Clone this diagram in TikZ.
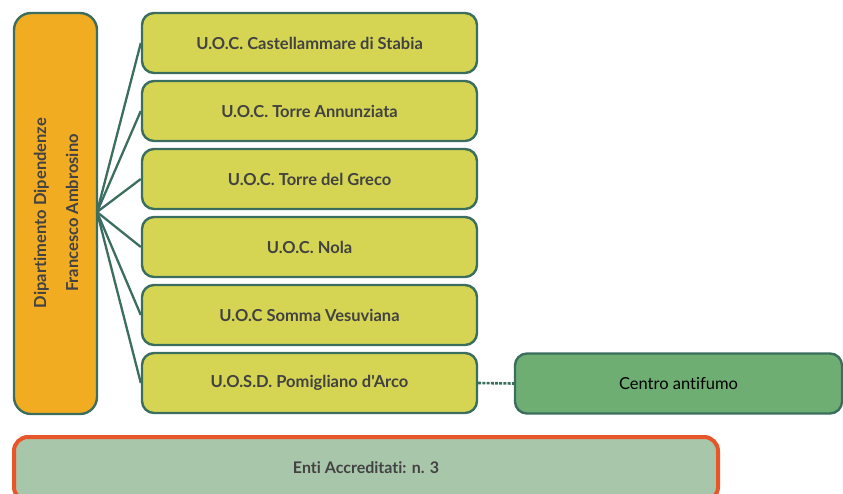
\documentclass[tikz,border=0pt]{standalone}
\usepackage{fontspec}
\setmainfont{Lato}[Ligatures={TeXOff,NoCommon}]
\definecolor{edge}{HTML}{3B6E5E}
\definecolor{deptfill}{HTML}{F2AC22}
\definecolor{unitfill}{HTML}{D5D553}
\definecolor{smokefill}{HTML}{6FAE73}
\definecolor{entifill}{HTML}{A8C7AA}
\definecolor{entiedge}{HTML}{E8552B}
\definecolor{txt}{HTML}{424242}
\begin{document}
\begin{tikzpicture}[x=1pt,y=-1pt,
  box/.style={draw=edge,line width=2.4pt,rounded corners=12pt,inner sep=0pt,
    font=\fontsize{16.5}{18}\selectfont\bfseries,text=txt,align=center},
  unit/.style={box,fill=unitfill,minimum width=335pt,minimum height=60pt},
  link/.style={draw=edge,line width=2.3pt}]
\useasboundingbox (0,0) rectangle (843,493);

% department
\node[box,fill=deptfill,rounded corners=17pt,minimum width=83pt,minimum height=401pt]
  (dept) at (55.5,213.5) {};
\node[rotate=90,font=\fontsize{16.5}{32}\selectfont\bfseries,text=txt,align=center]
  (deptlabel) at (56,213) {Dipartimento Dipendenze\\Francesco Ambrosino};

% operating units
\node[unit] (u1) at (309.5,43)  {U.O.C. Castellammare di Stabia};
\node[unit] (u2) at (309.5,111) {U.O.C. Torre Annunziata};
\node[unit] (u3) at (309.5,179) {U.O.C. Torre del Greco};
\node[unit] (u4) at (309.5,247) {U.O.C. Nola};
\node[unit] (u5) at (309.5,315) {U.O.C Somma Vesuviana};
\node[unit] (u6) at (309.5,383) {U.O.S.D. Pomigliano d'Arco};

% smoking cessation centre
\node[box,fill=smokefill,text=black,font=\fontsize{16.5}{18}\selectfont,
  minimum width=327pt,minimum height=60pt] (smoke) at (678.5,383.5) {Centro antifumo};

% accredited bodies
\node[box,fill=entifill,draw=entiedge,line width=4pt,rounded corners=14pt,
  minimum width=704pt,minimum height=64pt] (enti) at (366,469) {};
\node[font=\fontsize{16}{18}\selectfont\bfseries,text=txt] (entilabel) at (366,468) {Enti Accreditati: n. 3};

% connectors
\coordinate (hub) at (97,212);
\foreach \u in {u1,u2,u3,u4,u5,u6}
  \draw[link] (hub) -- (\u.west);
\draw[link,line width=2.6pt,dash pattern=on 3pt off 1.2pt] (u6.east) -- (smoke.west);
\end{tikzpicture}
\end{document}
